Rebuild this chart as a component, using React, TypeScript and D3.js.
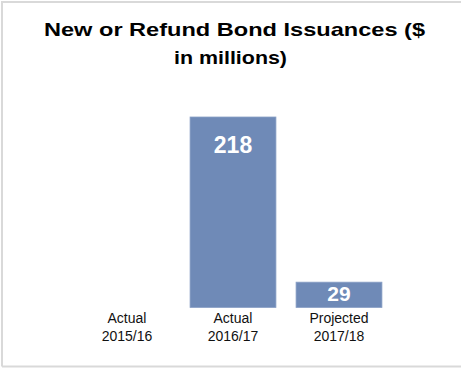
import React from "react";
import * as d3 from "d3";

const categories = ["Actual 2015/16", "Actual 2016/17", "Projected 2017/18"];
const labelLine1 = ["Actual", "Actual", "Projected"];
const labelLine2 = ["2015/16", "2016/17", "2017/18"];
const values = [0, 218, 29];
const valueLabels = ["", "218", "29"];
const titleLines = ["New or Refund Bond Issuances ($", "in millions)"];

const W = 461;
const H = 369;

export default function App() {
  const x = d3
    .scaleBand<string>()
    .domain(categories)
    .range([74, 392])
    .paddingInner(0.19)
    .paddingOuter(0.095);
  const y = d3.scaleLinear().domain([0, 218]).range([307.5, 117]);
  const font = "'Liberation Sans', Arial, sans-serif";
  const valueSizes = [23, 23, 21];

  return (
    <svg
      width={W}
      height={H}
      style={{ position: "absolute", left: 0, top: 0, background: "#fff" }}
    >
      <rect x={0} y={0} width={W} height={H} fill="#fff" />
      <path d={`M2,366.5 L2,2 L${W},2 M2,366.5 L${W},366.5`} fill="none" stroke="#d9d9d9" strokeWidth={2} />
      <text
        x={234.5}
        y={36}
        textAnchor="middle"
        fontFamily={font}
        fontWeight="bold"
        fontSize={19}
        textLength={381}
        lengthAdjust="spacingAndGlyphs"
        fill="#000"
      >
        {titleLines[0]}
      </text>
      <text
        x={230.5}
        y={64}
        textAnchor="middle"
        fontFamily={font}
        fontWeight="bold"
        fontSize={19}
        textLength={113}
        lengthAdjust="spacingAndGlyphs"
        fill="#000"
      >
        {titleLines[1]}
      </text>
      {categories.map((c, i) => {
        const bx = x(c)!;
        const bw = x.bandwidth();
        const top = y(values[i]);
        const h = y(0) - top;
        return (
          <g key={c}>
            {h > 0 && (
              <rect x={bx} y={top} width={bw} height={h} fill="#6f8ab7" stroke="#8aa0c6" strokeWidth={0.8} />
            )}
            {valueLabels[i] && (
              <text
                x={bx + bw / 2}
                y={i === 1 ? top + 36 : top + 19}
                textAnchor="middle"
                fontFamily={font}
                fontWeight="bold"
                fontSize={valueSizes[i]}
                fill="#fff"
              >
                {valueLabels[i]}
              </text>
            )}
            <text
              x={bx + bw / 2}
              y={323}
              textAnchor="middle"
              fontFamily={font}
              fontSize={14}
              fill="#111"
            >
              {labelLine1[i]}
            </text>
            <text
              x={bx + bw / 2}
              y={341}
              textAnchor="middle"
              fontFamily={font}
              fontSize={14}
              fill="#111"
            >
              {labelLine2[i]}
            </text>
          </g>
        );
      })}
    </svg>
  );
}
